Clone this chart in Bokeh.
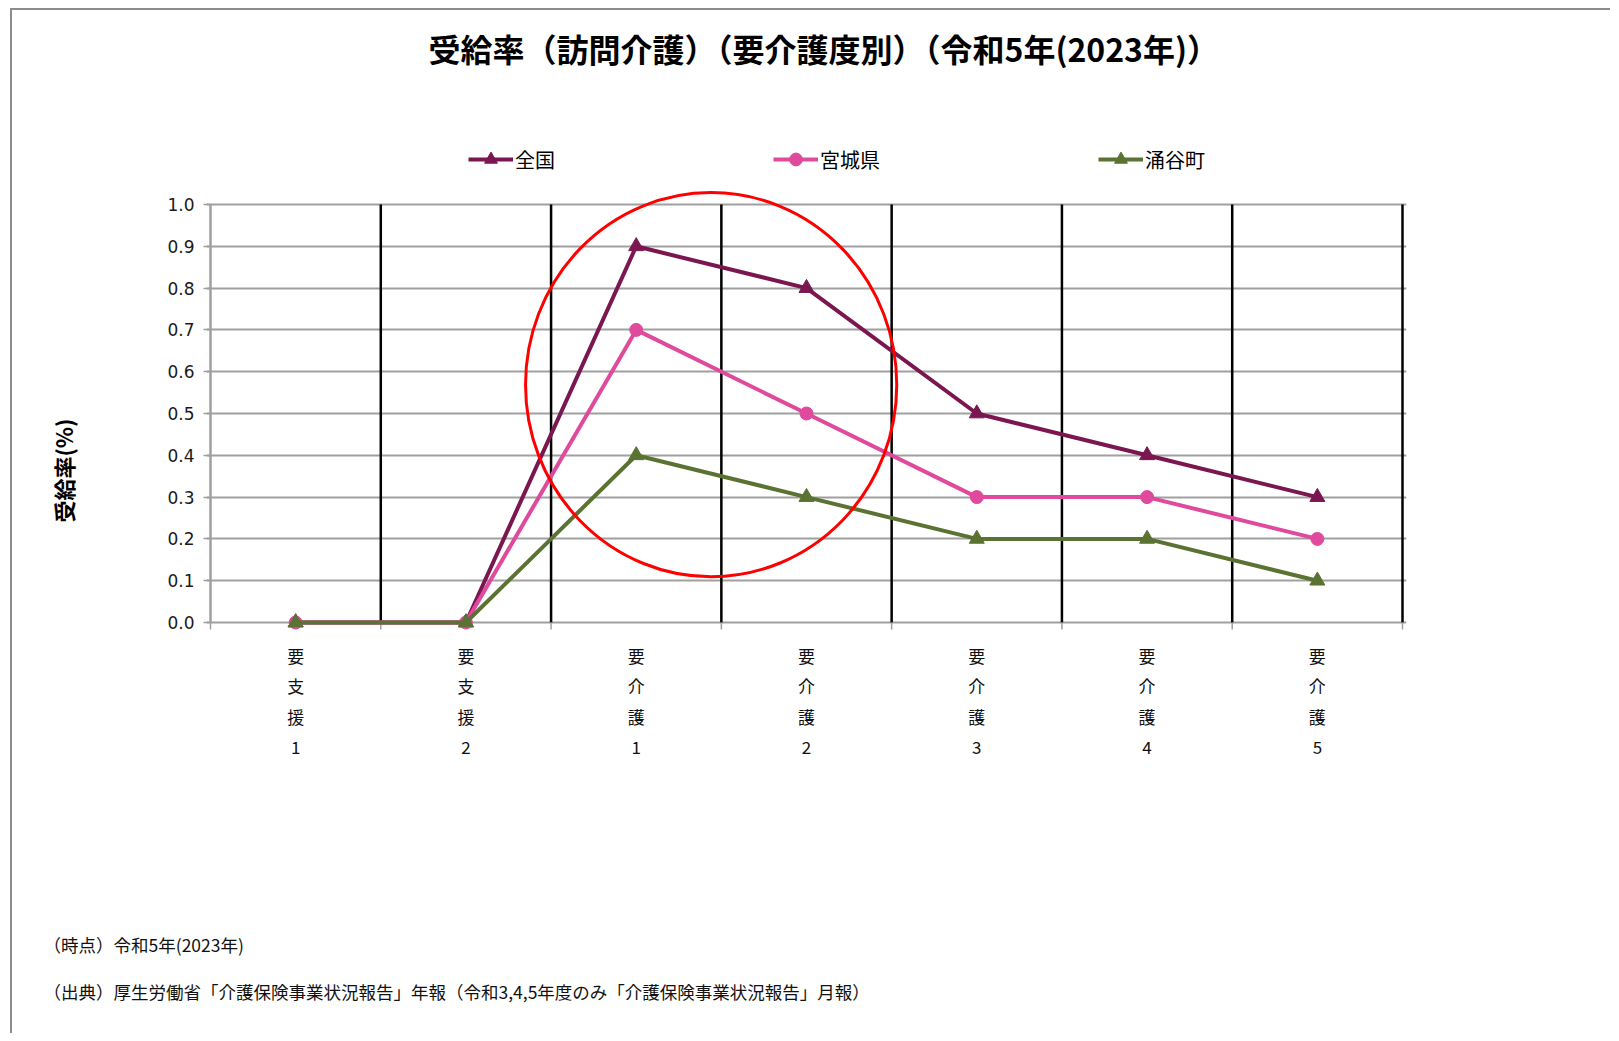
from bokeh.plotting import figure
from bokeh.models import Range1d, FixedTicker, NumeralTickFormatter, Legend, LegendItem, Title
from bokeh.embed import file_html
from bokeh.resources import INLINE

# ---- data ----
categories = ["要支援1", "要支援2", "要介護1", "要介護2", "要介護3", "要介護4", "要介護5"]
zenkoku = [0.0, 0.0, 0.9, 0.8, 0.5, 0.4, 0.3]
miyagi = [0.0, 0.0, 0.7, 0.5, 0.3, 0.3, 0.2]
wakuya = [0.0, 0.0, 0.4, 0.3, 0.2, 0.2, 0.1]
series_names = ["全国", "宮城県", "涌谷町"]
y_ticks = [0.0, 0.1, 0.2, 0.3, 0.4, 0.5, 0.6, 0.7, 0.8, 0.9, 1.0]
title_text = "受給率（訪問介護）（要介護度別）（令和5年(2023年)）"
y_label = "受給率(%)"
note1 = "（時点）令和5年(2023年)"
note2 = "（出典）厚生労働省「介護保険事業状況報告」年報（令和3,4,5年度のみ「介護保険事業状況報告」月報）"

# highlight ellipse (data units)
ELL_X, ELL_Y, ELL_W, ELL_H = 2.44, 0.569, 2.18, 0.919

# ---- styles ----
colors = ["#7b1750", "#e04a9c", "#5a7232"]
markers = ["triangle", "circle", "triangle"]
CJK = "Noto Sans CJK JP"
GRID_GRAY = "#a0a0a0"

x = list(range(len(categories)))
n = len(categories)

W, H = 1600, 1025
PAD = 4                      # small room so edge lines are not cut in half
ZERO_Y = 612                 # canvas y of value 0
FRAME_T = 128
PX_PER_UNIT = 418.0
PX_PER_CAT = 1192.0 / n
BOTTOM_ROOM = 10             # room under 0 so markers at 0 are whole
FRAME_L, FRAME_R, FRAME_B = 198 - PAD, 1390 + PAD, ZERO_Y + BOTTOM_ROOM

x_range = Range1d(-0.5 - PAD / PX_PER_CAT, n - 0.5 + PAD / PX_PER_CAT)
y_range = Range1d(-BOTTOM_ROOM / PX_PER_UNIT, (ZERO_Y - FRAME_T) / PX_PER_UNIT)

p = figure(width=W, height=H, output_backend="svg", toolbar_location=None,
           x_range=x_range, y_range=y_range,
           min_border_left=FRAME_L, min_border_top=FRAME_T,
           min_border_right=W - FRAME_R, min_border_bottom=H - FRAME_B,
           styles={"margin-left": "10px", "margin-top": "8px",
                   "border-top": "2px solid #8c8c8c", "border-left": "2px solid #8c8c8c"})
p.outline_line_color = None
p.background_fill_color = "white"
p.border_fill_color = "white"
p.title.text = ""
p.title.standoff = 0

bounds = [i - 0.5 for i in range(n + 1)]
y_lo, y_hi = y_ticks[0], y_ticks[-1]
TICK_LEN = 7 / PX_PER_UNIT

# grids: horizontal gray lines (0 line doubles as the x axis line)
p.ygrid.ticker = FixedTicker(ticks=y_ticks)
p.ygrid.grid_line_color = GRID_GRAY
p.ygrid.grid_line_width = 1.8
p.xgrid.grid_line_color = None
# black vertical separators over 0..1, gray left axis line, small ticks under 0
p.segment(x0=bounds[1:], y0=[y_lo] * n, x1=bounds[1:], y1=[y_hi] * n,
          line_color="black", line_width=2.5)
p.segment(x0=[bounds[0]], y0=[y_lo], x1=[bounds[0]], y1=[y_hi],
          line_color=GRID_GRAY, line_width=2.5)
p.segment(x0=bounds, y0=[y_lo] * (n + 1), x1=bounds, y1=[y_lo - TICK_LEN] * (n + 1),
          line_color=GRID_GRAY, line_width=1.5)

# y axis
p.yaxis.ticker = FixedTicker(ticks=y_ticks)
p.yaxis.formatter = NumeralTickFormatter(format="0.0")
p.yaxis.axis_line_color = None
p.yaxis.major_tick_line_color = GRID_GRAY
p.yaxis.major_tick_line_width = 1.5
p.yaxis.major_tick_out = 7 - PAD
p.yaxis.major_tick_in = PAD
p.yaxis.minor_tick_line_color = None
p.yaxis.major_label_text_font = "DejaVu Sans"
p.yaxis.major_label_text_font_size = "17px"
p.yaxis.major_label_text_color = "#1a1a1a"
p.yaxis.major_label_standoff = 9

# x axis (labels only; line and ticks drawn at value 0 above)
p.xaxis.ticker = FixedTicker(ticks=x)
p.xaxis.major_label_overrides = {i: "\n".join(list(c)) for i, c in zip(x, categories)}
p.xaxis.axis_line_color = None
p.xaxis.major_tick_line_color = None
p.xaxis.minor_tick_line_color = None
p.xaxis.major_tick_out = 0
p.xaxis.major_tick_in = 0
p.xaxis.major_label_text_font = CJK
p.xaxis.major_label_text_font_size = "17px"
p.xaxis.major_label_text_color = "#111111"
p.xaxis.major_label_text_line_height = 1.22
p.xaxis.major_label_standoff = 10

# series
items = []
for name, vals, col, mk in zip(series_names, [zenkoku, miyagi, wakuya], colors, markers):
    ln = p.line(x, vals, line_color=col, line_width=4)
    sc = p.scatter(x, vals, marker=mk, size=15 if mk == "triangle" else 13,
                   fill_color=col, line_color=col)
    items.append(LegendItem(label=name, renderers=[ln, sc]))

# highlight ellipse
p.ellipse(x=[ELL_X], y=[ELL_Y], width=[ELL_W], height=[ELL_H],
          fill_color=None, line_color="#ff0000", line_width=3)

# legend inside the (extended) frame, in the row above 1.0
legend = Legend(items=items, orientation="horizontal",
                location=(258 + PAD, 447 + BOTTOM_ROOM),
                spacing=218, padding=0, margin=0, glyph_width=45, glyph_height=32,
                label_standoff=2, border_line_color=None, background_fill_alpha=0,
                label_text_font=CJK, label_text_font_size="20px", label_text_color="black")
p.add_layout(legend)

# title (above): spacer next to the frame, then the title
p.add_layout(Title(text=" ", standoff=45, text_font_size="13px"), "above")
p.add_layout(Title(text=title_text, align="left", offset=218 + PAD, standoff=11,
                   text_font=CJK, text_font_size="32px", text_font_style="bold",
                   text_color="black"), "above")

# y-axis title (left): spacer next to the axis, then the rotated label
p.add_layout(Title(text=" ", standoff=39, text_font_size="13px"), "left")
p.add_layout(Title(text=y_label, align="left", offset=100 + BOTTOM_ROOM, standoff=60,
                   text_font=CJK, text_font_size="22px", text_font_style="bold",
                   text_color="black"), "left")

# footnotes (below): spacer + two lines
p.add_layout(Title(text=" ", standoff=148, text_font_size="13px"), "below")
p.add_layout(Title(text=note1, align="left", offset=-163, standoff=4,
                   text_font=CJK, text_font_size="17.5px", text_font_style="normal",
                   text_color="#111111"), "below")
p.add_layout(Title(text=note2, align="left", offset=-163, standoff=36,
                   text_font=CJK, text_font_size="17.5px", text_font_style="normal",
                   text_color="#111111"), "below")

open("out.html", "w").write(file_html(p, INLINE))
